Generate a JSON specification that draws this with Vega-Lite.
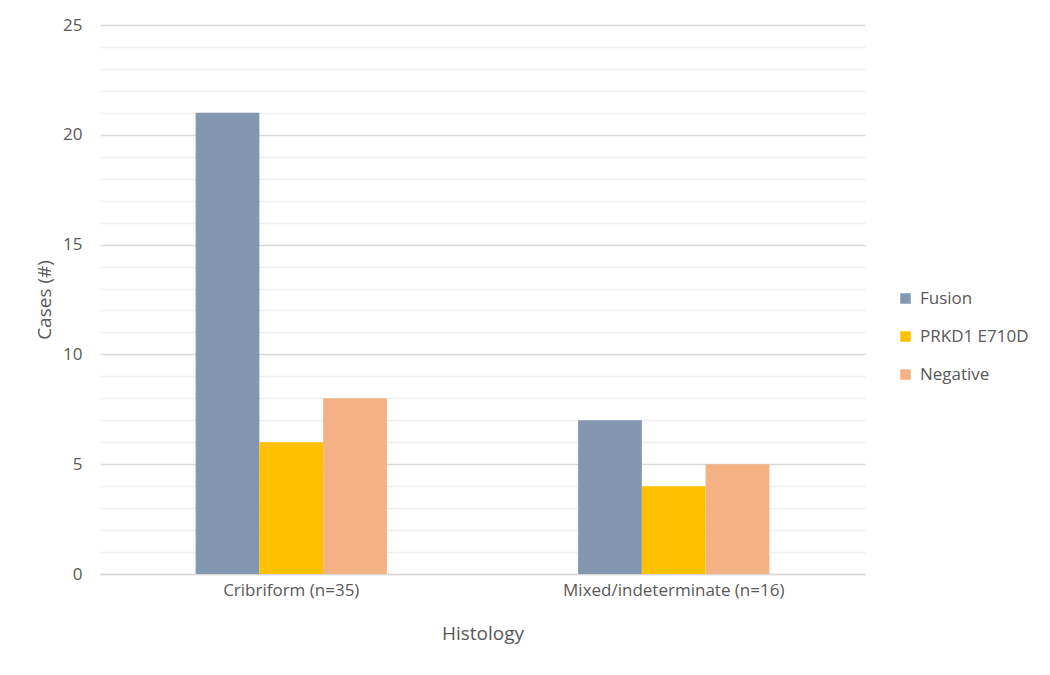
{
  "$schema": "https://vega.github.io/schema/vega-lite/v6.json",
  "width": 765,
  "height": 549,
  "autosize": {"type": "none"},
  "padding": {"left": 100, "top": 25, "right": 185, "bottom": 101},
  "background": "white",
  "config": {
    "view": {"stroke": null},
    "font": "Open Sans"
  },
  "data": {
    "values": [
      {"histology": "Cribriform (n=35)", "group": "Fusion", "cases": 21},
      {"histology": "Cribriform (n=35)", "group": "PRKD1 E710D", "cases": 6},
      {"histology": "Cribriform (n=35)", "group": "Negative", "cases": 8},
      {"histology": "Mixed/indeterminate (n=16)", "group": "Fusion", "cases": 7},
      {"histology": "Mixed/indeterminate (n=16)", "group": "PRKD1 E710D", "cases": 4},
      {"histology": "Mixed/indeterminate (n=16)", "group": "Negative", "cases": 5}
    ]
  },
  "mark": {"type": "bar"},
  "encoding": {
    "x": {
      "field": "histology",
      "type": "nominal",
      "sort": null,
      "scale": {"paddingInner": 0.5, "paddingOuter": 0.25},
      "axis": {
        "title": "Histology",
        "labelAngle": 0,
        "labelFontSize": 17,
        "labelLimit": 0,
        "labelColor": "#595959",
        "labelPadding": 8,
        "titleFontSize": 19,
        "titleFontWeight": "normal",
        "titleColor": "#595959",
        "titlePadding": 26,
        "ticks": false,
        "domain": true,
        "domainColor": "#d9d9d9",
        "domainWidth": 1.5
      }
    },
    "xOffset": {"field": "group", "type": "nominal", "sort": ["Fusion", "PRKD1 E710D", "Negative"], "scale": {"paddingInner": 0, "paddingOuter": 0}},
    "y": {
      "field": "cases",
      "type": "quantitative",
      "scale": {"domain": [0, 25], "nice": false},
      "axis": {
        "title": "Cases (#)",
        "values": [0,1,2,3,4,5,6,7,8,9,10,11,12,13,14,15,16,17,18,19,20,21,22,23,24,25],
        "labelExpr": "datum.value % 5 === 0 ? datum.label : ''",
        "labelFontSize": 17,
        "labelColor": "#595959",
        "labelPadding": 18,
        "titleFontSize": 19,
        "titleFontWeight": "normal",
        "titleColor": "#595959",
        "titlePadding": 8,
        "ticks": false,
        "domain": false,
        "grid": true,
        "gridColor": {"condition": {"test": "datum.value % 5 === 0", "value": "#d9d9d9"}, "value": "#efefef"},
        "gridWidth": 1.3
      }
    },
    "color": {
      "field": "group",
      "type": "nominal",
      "sort": ["Fusion", "PRKD1 E710D", "Negative"],
      "scale": {"domain": ["Fusion", "PRKD1 E710D", "Negative"], "range": ["#8497B0", "#FFC000", "#F4B183"]},
      "legend": {
        "title": null,
        "orient": "none",
        "legendX": 797,
        "legendY": 265,
        "symbolType": "square",
        "symbolSize": 110,
        "symbolStrokeWidth": 0,
        "labelFontSize": 17,
        "labelColor": "#595959",
        "rowPadding": 20,
        "labelOffset": 6
      }
    }
  }
}
